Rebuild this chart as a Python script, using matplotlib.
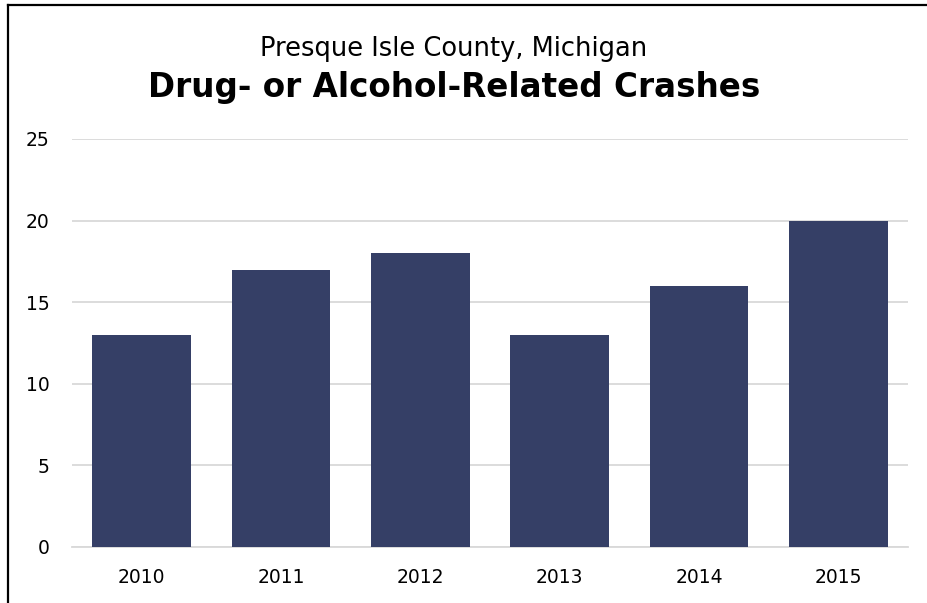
import matplotlib
matplotlib.use('Agg')
import matplotlib.pyplot as plt
from matplotlib.lines import Line2D

# chart data
years = ['2010', '2011', '2012', '2013', '2014', '2015']
crashes = [13, 17, 18, 13, 16, 20]
yticks = [0, 5, 10, 15, 20, 25]

BAR_COLOR = '#353f66'
GRID_COLOR = '#d9d9d9'

plt.rcParams['font.family'] = ['DejaVu Sans']

fig = plt.figure(figsize=(9.28, 6.03), dpi=100)
ax = fig.add_axes([72 / 928, 56 / 603, 836 / 928, 408 / 603])

ax.bar(range(len(years)), crashes, width=0.71, color=BAR_COLOR, zorder=3)

ax.set_xlim(-0.5, len(years) - 0.5)
ax.set_ylim(0, 25)
ax.set_yticks(yticks)
ax.set_xticks(range(len(years)))
ax.set_xticklabels(years)

ax.yaxis.grid(True, color=GRID_COLOR, linewidth=1.3, zorder=0)
for side in ['top', 'right', 'left']:
    ax.spines[side].set_visible(False)
ax.spines['bottom'].set_color(GRID_COLOR)
ax.spines['bottom'].set_linewidth(1.3)
ax.tick_params(axis='both', length=0, labelsize=13.5, colors='black')
ax.tick_params(axis='y', pad=16)
ax.tick_params(axis='x', pad=15)

# titles
title_x = 454 / 928
fig.text(title_x, 1 - 56 / 603, 'Presque Isle County, Michigan', ha='center', va='baseline',
         fontsize=18.5)
fig.text(title_x, 1 - 97 / 603, 'Drug- or Alcohol-Related Crashes', ha='center', va='baseline',
         fontsize=23.5, fontweight='bold')

# border (top and left edges only)
fig.add_artist(Line2D([8 / 928, 1], [1 - 5 / 603, 1 - 5 / 603], color='black', linewidth=1.6,
                      transform=fig.transFigure))
fig.add_artist(Line2D([8 / 928, 8 / 928], [0, 1 - 5 / 603], color='black', linewidth=1.6,
                      transform=fig.transFigure))

fig.savefig('out.png', dpi=100)
